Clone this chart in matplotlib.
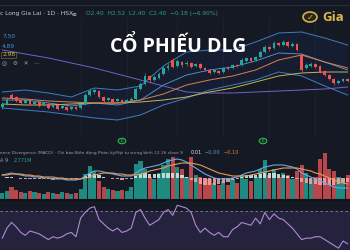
import numpy as np
import matplotlib
matplotlib.use("Agg")
import matplotlib.pyplot as plt
from matplotlib.patches import Circle

# ---- candles (daily, DLG) ----
opens = [1.93, 1.96, 2.05, 2.03, 2.00, 1.97, 1.99, 1.96, 1.98, 1.95, 1.96, 1.93, 1.95, 1.92, 1.93, 1.91,
         1.93, 1.92, 1.96, 2.05, 2.08, 2.09, 2.03, 2.00, 2.01, 1.99, 2.00, 1.98, 1.99, 2.01, 2.11, 2.16,
         2.24, 2.20, 2.22, 2.26, 2.32, 2.40, 2.34, 2.38, 2.36, 2.37, 2.34, 2.36, 2.32, 2.30, 2.28, 2.29,
         2.28, 2.32, 2.32, 2.35, 2.35, 2.39, 2.42, 2.40, 2.43, 2.48, 2.53, 2.52, 2.57, 2.55, 2.58, 2.54,
         2.56, 2.45, 2.32, 2.34, 2.36, 2.34, 2.29, 2.25, 2.21, 2.17, 2.19, 2.21]
closes = [1.96, 2.00, 2.01, 1.99, 1.97, 2.00, 1.96, 1.98, 1.94, 1.97, 1.92, 1.95, 1.91, 1.94, 1.90, 1.93,
          1.91, 1.96, 2.05, 2.09, 2.10, 2.03, 1.99, 2.02, 1.98, 2.01, 1.97, 2.00, 2.01, 2.11, 2.16, 2.24,
          2.20, 2.23, 2.26, 2.32, 2.34, 2.33, 2.39, 2.35, 2.37, 2.33, 2.36, 2.32, 2.30, 2.27, 2.30, 2.27,
          2.32, 2.31, 2.35, 2.34, 2.40, 2.42, 2.39, 2.43, 2.48, 2.53, 2.51, 2.57, 2.55, 2.58, 2.54, 2.56,
          2.50, 2.30, 2.35, 2.36, 2.33, 2.28, 2.25, 2.21, 2.17, 2.19, 2.21, 2.19]
highs = [1.98, 2.02, 2.07, 2.04, 2.01, 2.01, 2.00, 1.99, 1.99, 1.98, 1.97, 1.96, 1.96, 1.95, 1.94, 1.94,
         1.94, 1.97, 2.07, 2.12, 2.12, 2.10, 2.04, 2.03, 2.02, 2.02, 2.01, 2.01, 2.03, 2.13, 2.18, 2.27,
         2.25, 2.25, 2.28, 2.34, 2.37, 2.42, 2.41, 2.39, 2.39, 2.38, 2.37, 2.37, 2.33, 2.31, 2.31, 2.30,
         2.33, 2.34, 2.36, 2.36, 2.42, 2.43, 2.43, 2.44, 2.50, 2.55, 2.54, 2.59, 2.58, 2.60, 2.59, 2.58,
         2.57, 2.46, 2.37, 2.38, 2.37, 2.35, 2.30, 2.26, 2.22, 2.20, 2.22, 2.22]
lows = [1.91, 1.95, 2.00, 1.98, 1.95, 1.96, 1.95, 1.95, 1.93, 1.94, 1.91, 1.92, 1.90, 1.91, 1.89, 1.90,
        1.90, 1.91, 1.95, 2.04, 2.06, 2.02, 1.98, 1.99, 1.97, 1.98, 1.96, 1.97, 1.98, 2.00, 2.10, 2.15,
        2.18, 2.19, 2.21, 2.25, 2.30, 2.32, 2.33, 2.33, 2.34, 2.32, 2.33, 2.31, 2.29, 2.26, 2.27, 2.26,
        2.27, 2.30, 2.31, 2.33, 2.34, 2.38, 2.38, 2.39, 2.42, 2.47, 2.49, 2.51, 2.54, 2.54, 2.53, 2.53,
        2.49, 2.28, 2.31, 2.33, 2.32, 2.27, 2.24, 2.20, 2.15, 2.16, 2.18, 2.18]

# ---- volume (millions) ----
volume = [0.6, 0.8, 1.2, 0.9, 0.7, 0.6, 0.8, 0.7, 0.6, 0.5, 0.7, 0.6, 0.5, 0.7, 0.6, 0.5,
          0.6, 1.0, 2.5, 3.3, 2.8, 1.8, 1.2, 1.0, 0.9, 0.8, 0.9, 0.8, 1.2, 3.5, 3.8, 3.0,
          2.2, 2.0, 2.6, 3.4, 4.0, 4.2, 3.2, 3.0, 2.2, 4.2, 2.4, 2.2, 1.8, 2.0, 1.6, 1.4,
          1.8, 1.4, 2.0, 1.6, 2.4, 2.0, 1.8, 2.2, 3.0, 3.9, 2.4, 3.0, 2.2, 2.6, 2.4, 2.0,
          2.8, 3.4, 2.6, 2.0, 2.2, 4.0, 4.6, 3.0, 2.8, 2.2, 2.0, 2.4]

# ---- MACD 12 26 9 ----
macd = [0.03, 0.04, 0.05, 0.04, 0.03, 0.02, 0.02, 0.01, 0.01, 0.00, 0.00, -0.01, -0.01, -0.01, -0.02, -0.02,
        -0.02, -0.01, 0.02, 0.05, 0.07, 0.07, 0.06, 0.05, 0.04, 0.03, 0.02, 0.02, 0.02, 0.05, 0.08, 0.10,
        0.11, 0.12, 0.13, 0.15, 0.17, 0.18, 0.19, 0.18, 0.16, 0.13, 0.10, 0.07, 0.04, 0.02, 0.00, -0.01,
        -0.01, -0.01, 0.00, 0.01, 0.03, 0.05, 0.06, 0.07, 0.09, 0.11, 0.12, 0.13, 0.13, 0.13, 0.12, 0.11,
        0.09, 0.05, 0.03, 0.01, -0.01, -0.03, -0.05, -0.07, -0.09, -0.10, -0.10, -0.10]
signal = [0.03, 0.03, 0.04, 0.04, 0.04, 0.03, 0.03, 0.02, 0.02, 0.01, 0.01, 0.01, 0.00, 0.00, -0.01, -0.01,
          -0.01, -0.01, 0.00, 0.01, 0.03, 0.04, 0.05, 0.05, 0.05, 0.04, 0.04, 0.03, 0.03, 0.03, 0.04, 0.05,
          0.07, 0.08, 0.09, 0.10, 0.12, 0.13, 0.14, 0.15, 0.15, 0.15, 0.14, 0.13, 0.11, 0.09, 0.07, 0.05,
          0.04, 0.03, 0.02, 0.02, 0.02, 0.02, 0.03, 0.04, 0.05, 0.06, 0.07, 0.08, 0.09, 0.10, 0.10, 0.10,
          0.10, 0.09, 0.08, 0.07, 0.05, 0.04, 0.02, 0.00, -0.02, -0.04, -0.05, -0.06]

# ---- RSI 14 ----
rsi = [51, 58, 62, 59, 55, 53, 56, 55, 54, 52, 50, 52, 51, 52, 54, 55,
       52, 65, 69, 72, 73, 64, 61, 58, 56, 58, 55, 56, 58, 69, 71, 65,
       60, 62, 64, 69, 71, 67, 74, 73, 72, 69, 60, 55, 58, 55, 53, 55,
       52, 52, 57, 59, 62, 61, 60, 65, 61, 69, 64, 68, 65, 64, 61, 58,
       54, 50, 51, 51, 52, 52, 50, 48, 46, 44, 49, 47]

# ---- overlay lines, read every 5 sessions ----
line_idx = [0, 5, 10, 15, 20, 25, 30, 35, 40, 45, 50, 55, 60, 65, 70, 75]
bb_upper = [2.08, 2.10, 2.07, 2.03, 2.12, 2.10, 2.14, 2.34, 2.48, 2.50, 2.50, 2.58, 2.67, 2.68, 2.62, 2.55]
bb_basis = [2.00, 2.00, 1.97, 1.94, 1.97, 1.95, 2.00, 2.15, 2.25, 2.30, 2.33, 2.39, 2.47, 2.46, 2.38, 2.30]
bb_lower = [1.92, 1.90, 1.88, 1.85, 1.82, 1.80, 1.85, 1.95, 2.02, 2.10, 2.15, 2.20, 2.28, 2.24, 2.14, 2.05]
ma_orange = [2.02, 2.01, 1.99, 1.98, 1.97, 1.97, 2.00, 2.06, 2.15, 2.20, 2.24, 2.30, 2.40, 2.45, 2.38, 2.32]
ma_yellow = [1.96, 1.95, 1.95, 1.96, 1.97, 1.97, 1.98, 2.00, 2.03, 2.08, 2.12, 2.18, 2.24, 2.27, 2.28, 2.28]
ma_purple = [2.50, 2.46, 2.42, 2.37, 2.32, 2.26, 2.20, 2.14, 2.08, 2.07, 2.07, 2.08, 2.09, 2.10, 2.11, 2.13]

BG = "#151924"
UP = "#26a69a"
DOWN = "#ef5350"

o = np.array(opens)
c = np.array(closes)
x = np.arange(len(c))
up = c >= o
cols = np.where(up, UP, DOWN)

fig = plt.figure(figsize=(3.5, 2.5), dpi=100, facecolor=BG)

# price pane
ax = fig.add_axes([0, 0.448, 1, 0.48])
ax.set_facecolor(BG)
ax.set_xlim(-0.5, len(c) - 0.5)
ax.set_ylim(1.62, 2.82)
for xv in [17, 27, 38, 48, 58, 68]:
    ax.axvline(xv, color="#1e2331", lw=0.6, zorder=0)
ax.fill_between(line_idx, bb_lower, bb_upper, color="#2962ff", alpha=0.06, lw=0)
ax.plot(line_idx, bb_upper, color="#3d7fc0", lw=0.7)
ax.plot(line_idx, bb_lower, color="#3d7fc0", lw=0.7)
ax.plot(line_idx, bb_basis, color="#5a9bd5", lw=0.6)
ax.plot(line_idx, ma_purple, color="#6f62c9", lw=0.7)
ax.plot(line_idx, ma_yellow, color="#c9b25a", lw=0.7)
ax.plot(line_idx, ma_orange, color="#d9824a", lw=0.7)
ax.vlines(x, lows, highs, color=cols, lw=0.5, zorder=3)
ax.bar(x, np.maximum(np.abs(c - o), 0.006), bottom=np.minimum(o, c), width=0.6,
       color=cols, zorder=4, lw=0)
ax.axis("off")

# volume + MACD pane
axv = fig.add_axes([0, 0.204, 1, 0.236])
axv.set_facecolor(BG)
axv.set_xlim(-0.5, len(c) - 0.5)
axv.set_ylim(0, 5.9)
axv.bar(x, volume, width=0.9, color=np.where(up, "#1f8a80", "#b8464a"), lw=0)
axv.axis("off")

axm = fig.add_axes([0, 0.204, 1, 0.236])
axm.patch.set_alpha(0)
axm.set_xlim(-0.5, len(c) - 0.5)
axm.set_ylim(-0.21, 0.38)
hist = np.array(macd) - np.array(signal)
axm.bar(x, hist, width=0.7, color=np.where(hist >= 0, "#d6e4e0", "#f0a3a3"), lw=0, alpha=0.9)
axm.plot(x, macd, color="#6aa8e8", lw=0.8)
axm.plot(x, signal, color="#e89a5a", lw=0.8)
axm.axis("off")

# RSI pane
axr = fig.add_axes([0, 0, 1, 0.196])
axr.set_facecolor("#212035")
axr.set_xlim(-0.5, len(c) - 0.5)
axr.set_ylim(42.7, 77)
axr.axhspan(30, 70, color="#7e57c2", alpha=0.16, lw=0)
axr.axhline(70, color="#8a7fa6", lw=0.6, ls=(0, (3, 3)))
axr.plot(x, rsi, color="#b08ad0", lw=0.8)
axr.axis("off")

# frame lines
fig.add_artist(plt.Line2D([0, 1], [1 - 5 / 250, 1 - 5 / 250], color="#2a2e39", lw=0.8))
fig.add_artist(plt.Line2D([0, 1], [1 - 200 / 250, 1 - 200 / 250], color="#0f121a", lw=1.5))

# header texts
fs = 4.2
fig.text(0.0, 1 - 14 / 250, "c Long Gia Lai · 1D · HSX", color="#c9ccd4", fontsize=fs, va="center")
fig.text(0.205, 1 - 14 / 250, "≡", color="#c9ccd4", fontsize=fs, va="center")
fig.text(0.245, 1 - 14 / 250, "O2.40  H2.52  L2.40  C2.40  −0.18 (−6.90%)", color="#2e9c8e",
         fontsize=fs, va="center")
fig.text(0.006, 1 - 37 / 250, "7.50", color="#4a8fd8", fontsize=fs, va="center")
fig.text(0.006, 1 - 47 / 250, "4.89", color="#4a8fd8", fontsize=fs, va="center")
fig.text(0.006, 1 - 55 / 250, "2.98", color="#d6b44a", fontsize=fs, va="center",
         bbox=dict(boxstyle="square,pad=0.15", fc="none", ec="#8a7a3a", lw=0.4))
fig.text(0.006, 1 - 63 / 250, "◎   ⚙   ✕   ···", color="#9aa0ad", fontsize=fs, va="center")

fig.text(0.0, 1 - 153 / 250,
         "ence Divergence (MACD) · Chỉ báo Biến động Phân kỳ/Hội tụ trung bình 12 26 close 9",
         color="#9aa0ad", fontsize=3.1, va="center")
fig.text(0.545, 1 - 153 / 250, "0.01", color="#e0e3ea", fontsize=3.6, va="center")
fig.text(0.585, 1 - 153 / 250, "−0.00", color="#5a9bd5", fontsize=3.6, va="center")
fig.text(0.638, 1 - 153 / 250, "−0.10", color="#d9824a", fontsize=3.6, va="center")
fig.text(0.0, 1 - 161 / 250, "A 9", color="#9aa0ad", fontsize=3.6, va="center")
fig.text(0.04, 1 - 161 / 250, "2.771M", color="#2e9c8e", fontsize=3.6, va="center")

for px in [122, 263]:
    fig.add_artist(Circle((px / 350, 1 - 141 / 250), 0.011, transform=fig.transFigure,
                          fc="#14301f", ec="#3fbf5a", lw=0.7))
    fig.text(px / 350, 1 - 141 / 250, "E", color="#3fbf5a", fontsize=2.8, ha="center", va="center")

# title + logo
fig.text(0.51, 1 - 47 / 250, "CỔ PHIẾU DLG", color="white", fontsize=14, fontweight="bold",
         ha="center", va="center", family=["Open Sans", "DejaVu Sans"])
fig.add_artist(Circle((310 / 350, 1 - 17 / 250), 0.02, transform=fig.transFigure,
                      fc="#2a2618", ec="#d4b24c", lw=1.2))
fig.text(310 / 350, 1 - 17 / 250, "✓", color="#d4b24c", fontsize=6, ha="center", va="center",
         fontweight="bold")
fig.text(322 / 350, 1 - 17 / 250, "Gia", color="#d9b84e", fontsize=9.5, fontweight="bold",
         va="center", family=["Open Sans", "DejaVu Sans"])

fig.savefig("out.png", dpi=100, facecolor=BG)
